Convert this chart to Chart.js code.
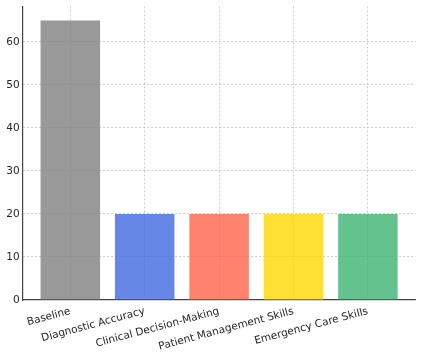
<!DOCTYPE html>
<html>
<head>
<meta charset="utf-8">
<script src="https://cdn.jsdelivr.net/npm/chart.js@4/dist/chart.umd.min.js"></script>
<style>
html,body{margin:0;padding:0;background:#fff;}
#wrap{width:422px;height:357px;position:relative;}
</style>
</head>
<body>
<div id="wrap"><canvas id="c" width="422" height="357"></canvas></div>
<script>
const categories = ["Baseline", "Diagnostic Accuracy", "Clinical Decision-Making", "Patient Management Skills", "Emergency Care Skills"];
const values = [65, 20, 20, 20, 20];
const barColors = ["rgba(128,128,128,0.8)", "rgba(65,105,225,0.8)", "rgba(255,99,71,0.8)", "rgba(255,215,0,0.8)", "rgba(60,179,113,0.8)"];
const yTicks = [0, 10, 20, 30, 40, 50, 60];

const points = values.map((v, i) => ({x: i, y: v}));

new Chart(document.getElementById('c'), {
  type: 'bar',
  data: {
    datasets: [{
      data: points,
      backgroundColor: barColors,
      borderWidth: 0,
      barPercentage: 0.8,
      categoryPercentage: 1.0
    }]
  },
  options: {
    responsive: false,
    animation: false,
    layout: {padding: {top: 6.5, right: 6.5, left: 0, bottom: 0}},
    plugins: {legend: {display: false}, tooltip: {enabled: false}},
    scales: {
      x: {
        type: 'linear',
        min: -0.64,
        max: 4.64,
        offset: false,
        z: 1,
        afterBuildTicks: (s) => { s.ticks = categories.map((c, i) => ({value: i})); },
        afterFit: (s) => { s.height = 57; s.paddingLeft = 0; s.paddingRight = 0; },
        ticks: {
          autoSkip: false,
          minRotation: 15,
          maxRotation: 15,
          padding: 5,
          color: '#262626',
          font: {family: 'DejaVu Sans', size: 10.5},
          callback: (v) => categories[v] !== undefined ? categories[v] : ''
        },
        grid: {
          offset: false,
          color: 'rgba(176,176,176,0.8)',
          drawTicks: false,
          lineWidth: 0.8
        },
        border: {display: true, color: '#444', width: 1.2, dash: [2, 2]}
      },
      y: {
        min: 0,
        max: 68.25,
        z: 1,
        afterBuildTicks: (s) => { s.ticks = yTicks.map(v => ({value: v})); },
        afterFit: (s) => { s.width = 22.7; s.paddingTop = 0; s.paddingBottom = 0; },
        ticks: {
          padding: 3,
          color: '#262626',
          font: {family: 'DejaVu Sans', size: 10.5}
        },
        grid: {
          color: (ctx) => ctx.tick && ctx.tick.value === 0 ? 'rgba(0,0,0,0)' : 'rgba(176,176,176,0.8)',
          drawTicks: false,
          lineWidth: 0.8
        },
        border: {display: true, color: '#444', width: 1.2, dash: [2, 2]}
      }
    }
  }
});
</script>
</body>
</html>
